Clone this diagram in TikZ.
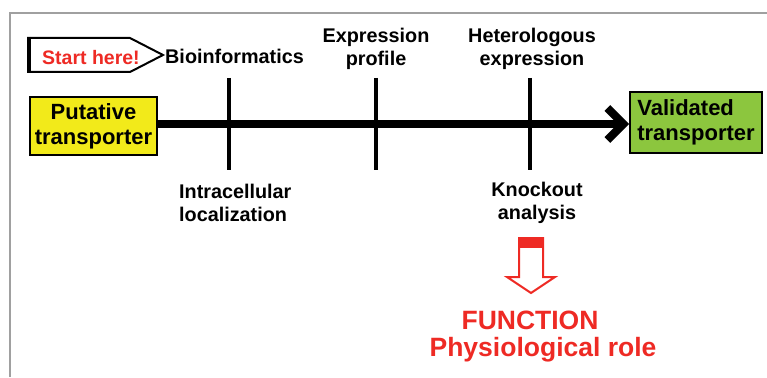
\documentclass[tikz,border=0pt]{standalone}
\usepackage{fontspec}
\setmainfont{Liberation Sans}
\usetikzlibrary{arrows.meta}
\definecolor{ylw}{HTML}{F2EA1A}
\definecolor{grn}{HTML}{8CC63E}
\definecolor{rd}{HTML}{EE2A24}
\definecolor{frm}{HTML}{A0A0A0}
\begin{document}
\begin{tikzpicture}[x=1pt,y=-1pt,
  box/.style={draw=black, line width=2pt, inner sep=2pt, font=\fontsize{22}{25}\selectfont\bfseries},
  lbl/.style={font=\fontsize{19.8}{23}\selectfont\bfseries, inner sep=0pt, align=center},
  vline/.style={line width=4pt},
  redtxt/.style={text=rd, font=\fontsize{26.5}{31}\selectfont\bfseries, inner sep=0pt}]
\useasboundingbox (0,0) rectangle (767,377);
% frame
\draw[frm, line width=1.5pt] (10,377) -- (10,13) -- (767,13);
% start here pentagon
\draw[line width=2pt, fill=white] (28,38) -- (130,38) -- (163,55) -- (130,72) -- (28,72) -- cycle;
\draw[line width=3.5pt] (29,37) -- (29,73);
\node[text=rd, font=\fontsize{19.5}{23}\selectfont\bfseries, inner sep=0pt] (start) at (91,58) {Start here!};
% boxes
\node[box, fill=ylw, minimum width=127pt, minimum height=58pt, align=center] (put) at (93.5,126) {Putative\\transporter};
\node[box, fill=grn, minimum width=132pt, minimum height=61pt, align=left] (val) at (696,122.5) {Validated\\transporter};
% main arrow
\coordinate (ay) at (0,124);
\draw[line width=8pt, -{Straight Barb[length=16pt,width=32pt]}] (put.east |- ay) -- (val.west |- ay);
% ticks
\coordinate (t1a) at (229,78); \coordinate (t1b) at (229,170);
\coordinate (t2a) at (376,78); \coordinate (t2b) at (376,170);
\coordinate (t3a) at (530,78); \coordinate (t3b) at (530,170);
\draw[vline] (t1a) -- (t1b);
\draw[vline] (t2a) -- (t2b);
\draw[vline] (t3a) -- (t3b);
% labels
\node[lbl, anchor=west] (bio) at (165,56) {Bioinformatics};
\node[lbl] (expr) at (376,49) {Expression\\profile};
\node[lbl] (het) at (532,49) {Heterologous\\expression};
\node[lbl, anchor=west, align=left] (intra) at (179,203) {Intracellular\\localization};
\node[lbl] (ko) at (537,203) {Knockout\\analysis};
% red arrow
\draw[rd, line width=2pt, fill=white, line join=miter] (519,238) -- (543,238) -- (543,277) -- (555,277) -- (531,293) -- (507,277) -- (519,277) -- cycle;
\fill[rd] (519,238) rectangle (543,248);
% function text
\node[redtxt] (func) at (530,320) {FUNCTION};
\node[redtxt] (phys) at (543,350) {Physiological role};
\end{tikzpicture}
\end{document}
